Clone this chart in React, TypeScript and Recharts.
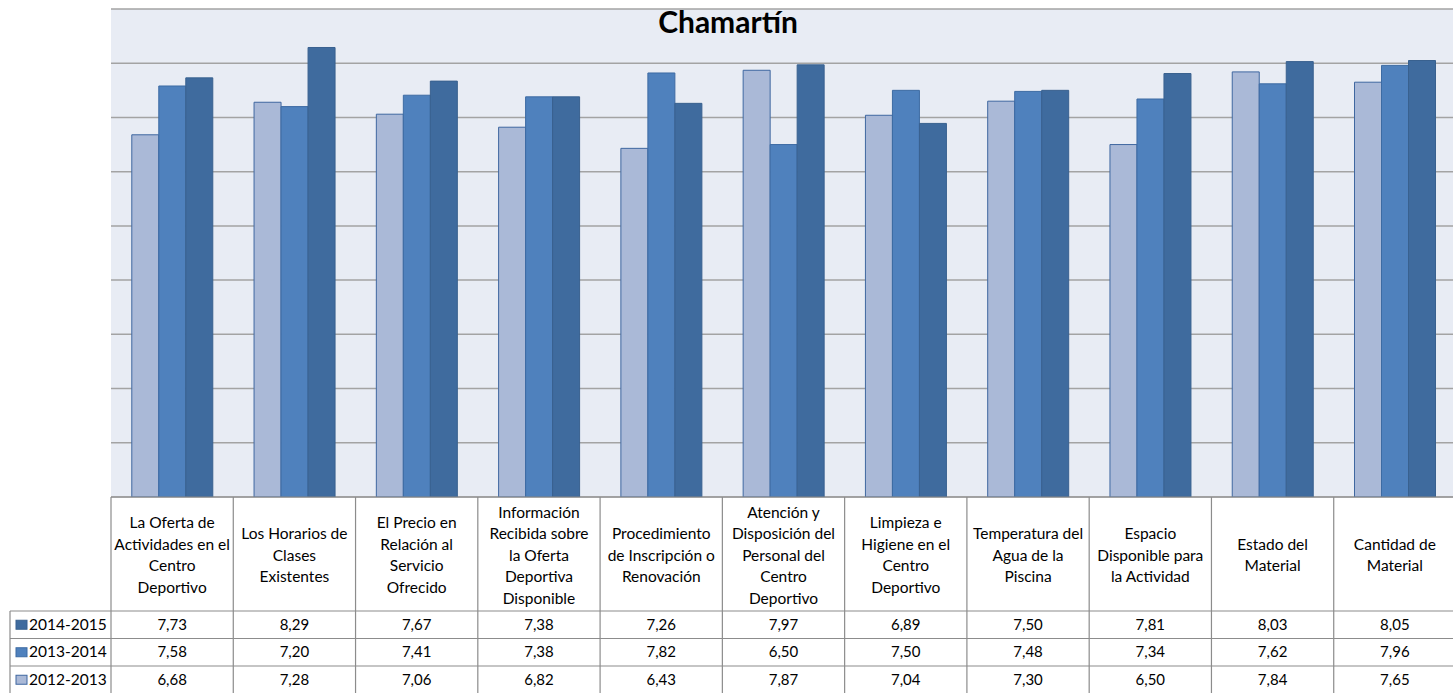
import React from "react";
import { BarChart, Bar, XAxis, YAxis, CartesianGrid } from "recharts";

const categories = [
  "La Oferta de\nActividades en el\nCentro\nDeportivo",
  "Los Horarios de\nClases\nExistentes",
  "El Precio en\nRelación al\nServicio\nOfrecido",
  "Información\nRecibida sobre\nla Oferta\nDeportiva\nDisponible",
  "Procedimiento\nde Inscripción o\nRenovación",
  "Atención y\nDisposición del\nPersonal del\nCentro\nDeportivo",
  "Limpieza e\nHigiene en el\nCentro\nDeportivo",
  "Temperatura del\nAgua de la\nPiscina",
  "Espacio\nDisponible para\nla Actividad",
  "Estado del\nMaterial",
  "Cantidad de\nMaterial",
];

const s2014_2015 = [7.73, 8.29, 7.67, 7.38, 7.26, 7.97, 6.89, 7.5, 7.81, 8.03, 8.05];
const s2013_2014 = [7.58, 7.2, 7.41, 7.38, 7.82, 6.5, 7.5, 7.48, 7.34, 7.62, 7.96];
const s2012_2013 = [6.68, 7.28, 7.06, 6.82, 6.43, 7.87, 7.04, 7.3, 6.5, 7.84, 7.65];

const seriesNames = ["2014-2015", "2013-2014", "2012-2013"];
const yTicks = [0, 1, 2, 3, 4, 5, 6, 7, 8, 9];
const title = "Chamartín";

const COLORS: Record<string, string> = {
  "2014-2015": "#3F6B9E",
  "2013-2014": "#4F81BD",
  "2012-2013": "#AAB9D7",
};
const STROKES: Record<string, string> = {
  "2014-2015": "#39618F",
  "2013-2014": "#3D6BA3",
  "2012-2013": "#3F67A0",
};

const data = categories.map((c, i) => ({
  name: c,
  "2014-2015": s2014_2015[i],
  "2013-2014": s2013_2014[i],
  "2012-2013": s2012_2013[i],
}));

const seriesArrays: Record<string, number[]> = {
  "2014-2015": s2014_2015,
  "2013-2014": s2013_2014,
  "2012-2013": s2012_2013,
};

const CHART_W = 1456;
const CHART_H = 693;
const LEFT = 111;
const BAND = (CHART_W - LEFT) / categories.length;
const HEADER_H = 114;
const ROW_H = 27.5;
const FONT = "Lato, 'Noto Sans', sans-serif";
const BORDER = "#8C8C8C";

const fmt = (v: number) => v.toFixed(2).replace(".", ",");

function TableTick(props: any) {
  const { x, y, payload } = props;
  const idx = categories.indexOf(payload.value);
  const x0 = x - BAND / 2;
  const x1 = x + BAND / 2;
  const lines = String(payload.value).split("\n");
  const lineH = 21.5;
  const headerCenter = y + HEADER_H / 2 + 1;
  const firstBase = headerCenter - ((lines.length - 1) / 2) * lineH + 5.5;
  const rowTops = [0, 1, 2, 3].map((k) => y + HEADER_H + k * ROW_H);
  const elems: React.ReactNode[] = [];
  elems.push(
    <line key="vl" x1={x0} y1={y} x2={x0} y2={CHART_H + 5} stroke={BORDER} strokeWidth={1.2} />
  );
  if (idx === categories.length - 1) {
    elems.push(
      <line key="vr" x1={x1} y1={y} x2={x1} y2={CHART_H + 5} stroke={BORDER} strokeWidth={1.2} />
    );
  }
  rowTops.slice(0, 3).forEach((t, k) => {
    elems.push(
      <line key={"h" + k} x1={x0} y1={t} x2={x1} y2={t} stroke={BORDER} strokeWidth={1.2} />
    );
  });
  lines.forEach((ln, k) => {
    elems.push(
      <text key={"t" + k} x={x} y={firstBase + k * lineH} textAnchor="middle" fontSize={15.5} fill="#000" fontFamily={FONT}>
        {ln}
      </text>
    );
  });
  seriesNames.forEach((s, k) => {
    elems.push(
      <text key={"v" + k} x={x} y={rowTops[k] + ROW_H / 2 + 5} textAnchor="middle" fontSize={15} fill="#000" fontFamily={FONT}>
        {fmt(seriesArrays[s][idx])}
      </text>
    );
  });
  if (idx === 0) {
    const lx = 10;
    elems.push(
      <line key="lv" x1={lx} y1={rowTops[0]} x2={lx} y2={CHART_H + 5} stroke={BORDER} strokeWidth={1.2} />
    );
    rowTops.slice(0, 3).forEach((t, k) => {
      elems.push(
        <line key={"lh" + k} x1={lx} y1={t} x2={x0} y2={t} stroke={BORDER} strokeWidth={1.2} />
      );
    });
    seriesNames.forEach((s, k) => {
      const cy = rowTops[k] + ROW_H / 2;
      elems.push(
        <rect key={"sw" + k} x={16} y={cy - 4.5} width={11} height={9} fill={COLORS[s]} stroke={STROKES[s]} strokeWidth={1} />
      );
      elems.push(
        <text key={"ln" + k} x={29} y={cy + 5} textAnchor="start" fontSize={15.5} fill="#000" fontFamily={FONT}>
          {s}
        </text>
      );
    });
  }
  return <g>{elems}</g>;
}

export default function App() {
  return (
    <div
      style={{
        position: "absolute",
        left: 0,
        top: 0,
        width: 1453,
        height: 693,
        overflow: "hidden",
        background: "#fff",
      }}
    >
      <BarChart
        width={CHART_W}
        height={CHART_H}
        data={data}
        margin={{ top: 9, right: 0, left: LEFT, bottom: 0 }}
        barCategoryGap="17%"
        barGap={0}
      >
        <CartesianGrid
          vertical={false}
          stroke="#A3A3A3"
          strokeWidth={1.5}
          fill="#E8ECF4"
          fillOpacity={1}
        />
        <XAxis
          dataKey="name"
          height={CHART_H - 497}
          interval={0}
          tickLine={false}
          tickSize={0}
          tickMargin={0}
          axisLine={{ stroke: BORDER, strokeWidth: 1.2 }}
          tick={<TableTick />}
        />
        <YAxis hide domain={[0, 9]} ticks={yTicks} type="number" allowDataOverflow />
        {["2012-2013", "2013-2014", "2014-2015"].map((s) => (
          <Bar
            key={s}
            dataKey={s}
            fill={COLORS[s]}
            stroke={STROKES[s]}
            strokeWidth={1}
            isAnimationActive={false}
          />
        ))}
        <text
          x={728}
          y={33}
          textAnchor="middle"
          fontSize={30}
          fontWeight={700}
          fontFamily={FONT}
          fill="#000"
        >
          {title}
        </text>
      </BarChart>
    </div>
  );
}
